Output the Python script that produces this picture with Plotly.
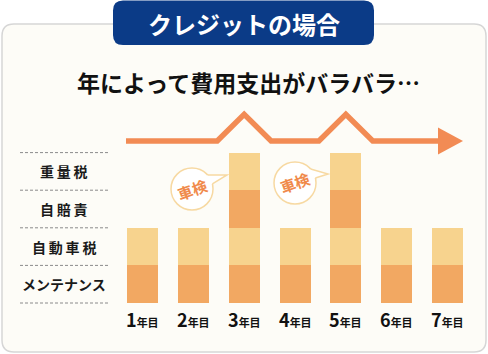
import plotly.graph_objects as go
import math

# ---------------- data ----------------
years = ["1", "2", "3", "4", "5", "6", "7"]
year_suffix = "年目"
categories = ["メンテナンス", "自動車税", "自賠責", "重量税"]
maintenance = [1, 1, 1, 1, 1, 1, 1]
car_tax = [1, 1, 1, 1, 1, 1, 1]
liability = [0, 0, 1, 0, 1, 0, 0]
weight_tax = [0, 0, 1, 0, 1, 0, 0]
series = [maintenance, car_tax, liability, weight_tax]
inspection_label = "車検"
title_text = "クレジットの場合"
subtitle_text = "年によって費用支出がバラバラ…"

# ---------------- styles ----------------
W, H = 488, 354
DARK = "#f2a862"
LIGHT = "#f7d38e"
seg_colors = [DARK, LIGHT, DARK, LIGHT]
ARROW = "#f28b54"
NAVY = "#0b3b87"
PANEL = "#fdfcf7"
FONT = "Noto Sans CJK JP"

# pixel mapping of axes
PX0, UX = 142.5, 305 / 6.0   # x=1 at 142.5px
PY0, UY = 303.0, 37.6        # y=0 at 303px
xr = [1 - PX0 / UX, 1 + (W - PX0) / UX]
yr = [-(H - PY0) / UY, PY0 / UY]


def dx(px):
    return 1 + (px - PX0) / UX


def dy(py):
    return (PY0 - py) / UY


def px(x):
    return x / W


def py(y):
    return 1 - y / H


def rrect(x0, y0, x1, y1, r):
    pts = [
        f"M{px(x0 + r)},{py(y0)}",
        f"L{px(x1 - r)},{py(y0)}",
        f"Q{px(x1)},{py(y0)} {px(x1)},{py(y0 + r)}",
        f"L{px(x1)},{py(y1 - r)}",
        f"Q{px(x1)},{py(y1)} {px(x1 - r)},{py(y1)}",
        f"L{px(x0 + r)},{py(y1)}",
        f"Q{px(x0)},{py(y1)} {px(x0)},{py(y1 - r)}",
        f"L{px(x0)},{py(y0 + r)}",
        f"Q{px(x0)},{py(y0)} {px(x0 + r)},{py(y0)}",
        "Z",
    ]
    return " ".join(pts)


xs = [i + 1 for i in range(len(years))]

fig = go.Figure()

# stacked bars
for name, vals, col in zip(categories, series, seg_colors):
    fig.add_trace(go.Bar(
        x=xs, y=vals, name=name, marker=dict(color=col, line=dict(width=0)),
        width=0.61, showlegend=False, hoverinfo="skip",
    ))

# trend arrow derived from totals
totals = [sum(s[i] for s in series) for i in range(len(years))]
base_total = min(totals)
base_y = dy(141)
rise = 0.71
ax, ay = [dx(126)], [base_y]
for i, t in enumerate(totals):
    if t > base_total:
        yrx = xs[i]
        ax += [yrx - 0.53, yrx, yrx + 0.53]
        ay += [base_y, base_y + rise * (t - base_total) / 2, base_y]
ax.append(dx(442))
ay.append(base_y)
fig.add_trace(go.Scatter(x=ax, y=ay, mode="lines",
                         line=dict(color=ARROW, width=5.5),
                         showlegend=False, hoverinfo="skip"))
fig.add_trace(go.Scatter(
    x=[dx(438), dx(463), dx(438), dx(438)],
    y=[dy(127.5), dy(141), dy(154.5), dy(127.5)],
    mode="lines", fill="toself", fillcolor=ARROW,
    line=dict(color=ARROW, width=0), showlegend=False, hoverinfo="skip"))

shapes = []
annotations = []

# panel and title box
shapes.append(dict(type="path", xref="paper", yref="paper", layer="below",
                   path=rrect(2, 24, 486, 352, 12), fillcolor=PANEL,
                   line=dict(color="#d6d6d6", width=1.5)))
shapes.append(dict(type="path", xref="paper", yref="paper", layer="above",
                   path=rrect(113, 0.5, 374, 45, 10), fillcolor=NAVY,
                   line=dict(width=0)))

annotations.append(dict(text=f"<b>{title_text}</b>", xref="paper", yref="paper",
                        x=px(243.5), y=py(23), showarrow=False,
                        font=dict(family=FONT, size=24, color="white"),
                        xanchor="center", yanchor="middle"))
annotations.append(dict(text=f"<b>{subtitle_text}</b>", xref="paper", yref="paper",
                        x=px(248.5), y=py(82), showarrow=False,
                        font=dict(family=FONT, size=23, color="#111111"),
                        xanchor="center", yanchor="middle"))

# category grid + labels
for k in range(len(categories) + 1):
    shapes.append(dict(type="line", xref="x", yref="y", x0=dx(20), x1=dx(110),
                       y0=k, y1=k, line=dict(color="#8a8a8a", width=1, dash="3px,2px")))
for k, c in enumerate(categories):
    lbl = c if len(c) > 4 else "\u2009".join(c)
    annotations.append(dict(text=f"<b>{lbl}</b>", xref="x", yref="y",
                            x=dx(64), y=k + 0.5, showarrow=False,
                            font=dict(family=FONT, size=14, color="#1a1a1a"),
                            xanchor="center", yanchor="middle"))

# year labels
for i, yv in enumerate(years):
    annotations.append(dict(
        text=f"<b><span style='font-size:18px'>{yv}</span><span style='font-size:11px'>{year_suffix}</span></b>",
        xref="x", yref="y", x=xs[i], y=dy(319), showarrow=False,
        font=dict(family=FONT, size=18, color="#111111"),
        xanchor="center", yanchor="middle"))

# speech bubbles for inspection years
bubble_pos = [(192, 189), (295, 183)]
tips = [(35, -14), (33, -9)]
R = 21
insp_idx = [i for i, t in enumerate(totals) if t > base_total]
for (cx, cy), (tx, ty), i in zip(bubble_pos, tips, insp_idx):
    shapes.append(dict(type="circle", xref="paper", yref="paper",
                       x0=px(cx - R), x1=px(cx + R), y0=py(cy + R), y1=py(cy - R),
                       fillcolor="white", line=dict(color="#f7d9a2", width=1.5)))
    a1, a2 = math.radians(-42), math.radians(-14)
    p1 = (cx + R * math.cos(a1), cy + R * math.sin(a1))
    p2 = (cx + R * math.cos(a2), cy + R * math.sin(a2))
    q1 = (cx + (R - 3) * math.cos(a1), cy + (R - 3) * math.sin(a1))
    q2 = (cx + (R - 3) * math.cos(a2), cy + (R - 3) * math.sin(a2))
    tip = (cx + tx, cy + ty)
    shapes.append(dict(type="path", xref="paper", yref="paper",
                       path=f"M{px(q1[0])},{py(q1[1])} L{px(p1[0])},{py(p1[1])} L{px(tip[0])},{py(tip[1])} L{px(p2[0])},{py(p2[1])} L{px(q2[0])},{py(q2[1])} Z",
                       fillcolor="white", line=dict(width=0)))
    shapes.append(dict(type="path", xref="paper", yref="paper",
                       path=f"M{px(p1[0])},{py(p1[1])} L{px(tip[0])},{py(tip[1])} L{px(p2[0])},{py(p2[1])}",
                       fillcolor="rgba(0,0,0,0)", line=dict(color="#f7d9a2", width=1.5)))
    annotations.append(dict(text=f"<b>{inspection_label}</b>", xref="paper", yref="paper",
                            x=px(cx), y=py(cy), showarrow=False, textangle=-20,
                            font=dict(family=FONT, size=15, color="#f08a4b"),
                            xanchor="center", yanchor="middle"))

fig.update_layout(
    width=W, height=H, margin=dict(l=0, r=0, t=0, b=0, pad=0),
    paper_bgcolor="white", plot_bgcolor="rgba(0,0,0,0)",
    barmode="stack", bargap=0,
    xaxis=dict(range=xr, visible=False, fixedrange=True, domain=[0, 1]),
    yaxis=dict(range=yr, visible=False, fixedrange=True, domain=[0, 1]),
    shapes=shapes, annotations=annotations, showlegend=False,
)

fig.write_html("out.html", config={"displayModeBar": False})
